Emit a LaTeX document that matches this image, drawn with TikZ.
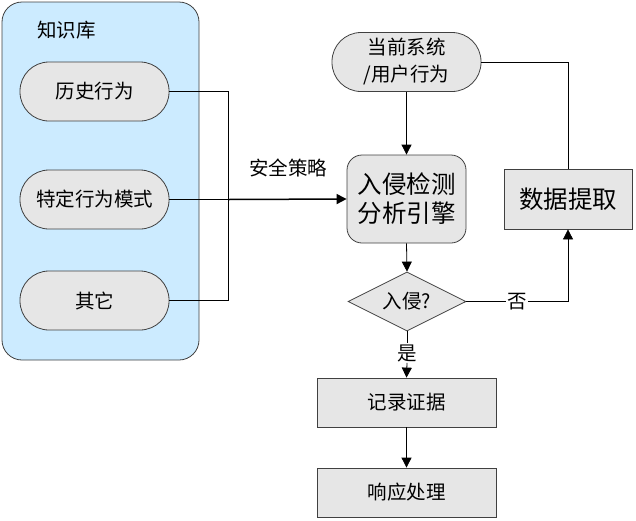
\documentclass[tikz,border=0pt]{standalone}
\usepackage{fontspec}
\setmainfont{Liberation Serif}
\newfontfamily\cjk{Noto Sans CJK SC}
\usetikzlibrary{arrows.meta,shapes.geometric}
\definecolor{kbblue}{HTML}{CCEBFF}
\definecolor{boxgray}{HTML}{E6E6E6}
\definecolor{edgegray}{HTML}{404040}
\tikzset{
  base/.style={draw=edgegray, fill=boxgray, line width=0.8pt, align=center, inner sep=0pt, font=\cjk\fontsize{19.5}{27}\selectfont},
  oval/.style={base, rounded corners=29pt, minimum width=149pt, minimum height=59pt},
  rbox/.style={base, rounded corners=15pt, minimum width=119pt, minimum height=88pt, font=\cjk\fontsize{24.5}{29}\selectfont},
  sbox/.style={base, minimum width=179pt, minimum height=49pt},
  bigbox/.style={base, minimum width=128pt, minimum height=60pt, font=\cjk\fontsize{24.5}{29}\selectfont},
  dia/.style={base, diamond, aspect=2, minimum width=118pt, minimum height=59pt},
  lbl/.style={font=\cjk\fontsize{19.5}{24}\selectfont, inner sep=1pt},
  conn/.style={draw=black, line width=0.8pt},
  arr/.style={conn, -{Triangle[length=10pt, width=10pt]}}
}
\begin{document}
\begin{tikzpicture}[x=1pt, y=-1pt]
\useasboundingbox (0,0) rectangle (636,520);
\draw[draw=edgegray, fill=kbblue, line width=0.8pt, rounded corners=20pt] (2,2) rectangle (199,360);
\node[lbl, anchor=west] (kb) at (36,30) {知识库};
\node[oval] (hist) at (94.5,91.5) {历史行为};
\node[oval] (spec) at (94.5,199.5) {特定行为模式};
\node[oval] (other) at (94.5,300.5) {其它};
\coordinate (j1) at (228,91.5);
\coordinate (j2) at (228,300.5);
\coordinate (jm) at (228,199.5);
\node[oval] (cur) at (406.5,62) {当前系统\\/用户行为};
\node[rbox] (eng) at (406.5,199) {入侵检测\\分析引擎};
\node[bigbox] (ext) at (568,199) {数据提取};
\node[dia] (q) at (407,301.5) {入侵?};
\node[sbox] (rec) at (406.5,402.5) {记录证据};
\node[sbox] (resp) at (406.5,492.5) {响应处理};
\node[lbl] (pol) at (288,168) {安全策略};
\node[lbl, fill=white] (no) at (517,301.5) {否};
\node[lbl, fill=white] (yes) at (407,353) {是};
\coordinate (c1) at (568,62);
\coordinate (c2) at (568,301.5);
\draw[conn] (hist.east) -- (j1) -- (j2) -- (other.east);
\draw[conn] (spec.east) -- (jm);
\draw[arr, line width=1.5pt] (jm) -- (eng.west);
\draw[arr] (cur.south) -- (eng.north);
\draw[conn] (cur.east) -- (c1) -- (ext.north);
\draw[arr] (eng.south) -- (q.north);
\draw[conn] (q.east) -- (no.west);
\draw[arr] (no.east) -- (c2) -- (ext.south);
\draw[conn] (q.south) -- (yes.north);
\draw[arr] (yes.south) -- (rec.north);
\draw[arr] (rec.south) -- (resp.north);
\end{tikzpicture}
\end{document}
